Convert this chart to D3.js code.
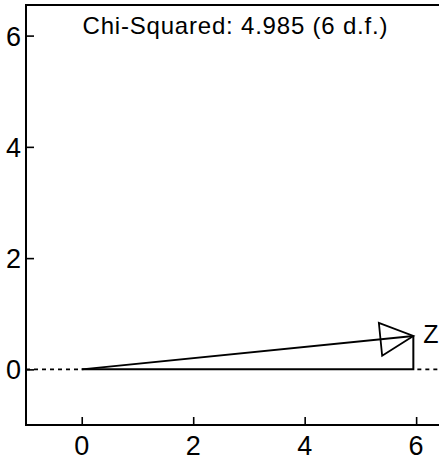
<!DOCTYPE html>
<html>
<head>
<meta charset="utf-8">
<script src="https://cdn.jsdelivr.net/npm/d3@7/dist/d3.min.js"></script>
<style>
  html, body { margin: 0; padding: 0; background: #fff; }
  svg { display: block; }
  text { font-family: "Liberation Sans", Arial, Helvetica, sans-serif; fill: #000; }
</style>
</head>
<body>
<svg id="chart" width="439" height="460"></svg>
<script>
// Biplot-style vector with its projection onto the horizontal axis
const titleText = "Chi-Squared: 4.985 (6 d.f.)";
const vectorNames = ["Z"];
const vectorX = [5.95];
const vectorY = [0.6];
const xTicks = [0, 2, 4, 6];
const yTicks = [0, 2, 4, 6];
const xDomain = [-1, 6.5];
const yDomain = [-1, 6.55];

const svg = d3.select("#chart");
const W = 439, H = 460;
const plotL = 26, plotR = 444, plotT = 5, plotB = 425;

const x = d3.scaleLinear().domain(xDomain).range([plotL, plotR]);
const y = d3.scaleLinear().domain(yDomain).range([plotB, plotT]);

// frame: left, top and bottom lines
svg.append("line").attr("x1", plotL).attr("x2", plotL).attr("y1", plotT).attr("y2", plotB)
  .attr("stroke", "#000").attr("stroke-width", 2);
svg.append("line").attr("x1", plotL - 1).attr("x2", W + 5).attr("y1", plotT).attr("y2", plotT)
  .attr("stroke", "#000").attr("stroke-width", 2);
svg.append("line").attr("x1", plotL - 1).attr("x2", W + 5).attr("y1", plotB).attr("y2", plotB)
  .attr("stroke", "#000").attr("stroke-width", 2);

// y axis: inward ticks, labels to the left
const yAxis = d3.axisRight(y).tickValues(yTicks).tickSize(8).tickFormat("");
const gy = svg.append("g").attr("transform", `translate(${plotL},0)`).call(yAxis);
gy.select(".domain").remove();
gy.selectAll(".tick line").attr("stroke", "#000").attr("stroke-width", 1.6);
svg.append("g").selectAll("text").data(yTicks).join("text")
  .attr("x", plotL - 5).attr("y", d => y(d) + 10)
  .attr("text-anchor", "end").attr("font-size", 27)
  .text(d => d);

// x axis: inward ticks, labels below
const xAxis = d3.axisTop(x).tickValues(xTicks).tickSize(8).tickFormat("");
const gx = svg.append("g").attr("transform", `translate(0,${plotB})`).call(xAxis);
gx.select(".domain").remove();
gx.selectAll(".tick line").attr("stroke", "#000").attr("stroke-width", 1.6);
svg.append("g").selectAll("text").data(xTicks).join("text")
  .attr("x", d => x(d)).attr("y", 455)
  .attr("text-anchor", "middle").attr("font-size", 27)
  .text(d => d);

// title
svg.append("text")
  .attr("x", (plotL + plotR) / 2).attr("y", 34)
  .attr("text-anchor", "middle").attr("font-size", 24)
  .attr("textLength", 305).attr("lengthAdjust", "spacing")
  .text(titleText);

// dotted reference line at y = 0 outside the projection
const vx = vectorX[0], vy = vectorY[0];
svg.append("line").attr("x1", plotL).attr("x2", x(0)).attr("y1", y(0)).attr("y2", y(0))
  .attr("stroke", "#000").attr("stroke-width", 1.6).attr("stroke-dasharray", "4,4");
svg.append("line").attr("x1", x(vx) + 4).attr("x2", W + 5).attr("y1", y(0)).attr("y2", y(0))
  .attr("stroke", "#000").attr("stroke-width", 1.6).attr("stroke-dasharray", "4,4");

// projection of the vector on the axis
svg.append("polyline")
  .attr("points", [[x(0), y(0)], [x(vx), y(0)], [x(vx), y(vy)]].map(p => p.join(",")).join(" "))
  .attr("fill", "none").attr("stroke", "#000").attr("stroke-width", 2);

// the vector itself with an open triangular head
vectorNames.forEach((name, i) => {
  const x0 = x(0), y0 = y(0), x1 = x(vectorX[i]), y1 = y(vectorY[i]);
  svg.append("line").attr("x1", x0).attr("y1", y0).attr("x2", x1).attr("y2", y1)
    .attr("stroke", "#000").attr("stroke-width", 2);
  const dx = x1 - x0, dy = y1 - y0, len = Math.hypot(dx, dy);
  const ux = dx / len, uy = dy / len;
  const headLen = 33, halfW = 16.5;
  const bx = x1 - ux * headLen, by = y1 - uy * headLen;
  const pts = [[x1, y1], [bx - uy * halfW, by + ux * halfW], [bx + uy * halfW, by - ux * halfW]];
  svg.append("polygon").attr("points", pts.map(p => p.join(",")).join(" "))
    .attr("fill", "none").attr("stroke", "#000").attr("stroke-width", 1.8)
    .attr("stroke-linejoin", "miter");
  svg.append("text").attr("x", x1 + 10).attr("y", y1 + 7)
    .attr("font-size", 25).text(name);
});
</script>
</body>
</html>
